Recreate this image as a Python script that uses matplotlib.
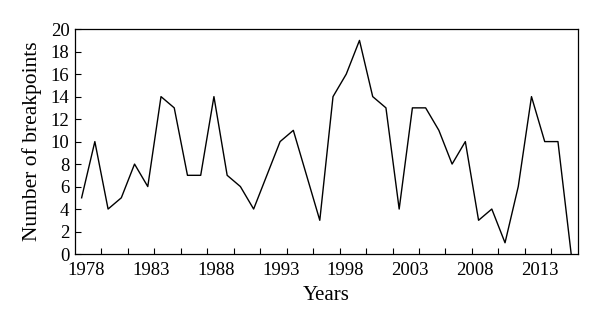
import matplotlib
matplotlib.use('Agg')
import matplotlib.pyplot as plt
import numpy as np

years = list(range(1978, 2016))
breakpoints = [5, 10, 4, 5, 8, 6, 14, 13, 7, 7, 14, 7, 6, 4, 7, 10, 11, 7, 3, 14,
               16, 19, 14, 13, 4, 13, 13, 11, 8, 10, 3, 4, 1, 6, 14, 10, 10, 0]
year_labels = ['1978', '1983', '1988', '1993', '1998', '2003', '2008', '2013']

plt.rcParams['font.family'] = ['Liberation Serif', 'DejaVu Serif']

fig = plt.figure(figsize=(6, 3.24), dpi=100)
ax = fig.add_axes([0.125, 0.216, 0.838, 0.694])

ax.plot(years, breakpoints, color='black', linewidth=1.0)

ax.set_xlim(years[0] - 0.5, years[-1] + 0.5)
ax.set_ylim(0, 20)
ax.set_yticks(np.arange(0, 21, 2))

# small tick marks every two years, labels placed separately
ax.set_xticks(np.arange(years[0] + 1.5, years[-1] - 0.5, 2), minor=True)
ax.set_xticks([years[0] + 0.38 + 4.89 * i for i in range(len(year_labels))])
ax.set_xticklabels(year_labels)
ax.tick_params(axis='x', which='major', length=0, pad=6, labelsize=13.5)
ax.tick_params(axis='x', which='minor', direction='in', length=4, width=0.8)
ax.tick_params(axis='y', direction='in', length=4, width=0.8, labelsize=13.5, pad=4)

for s in ax.spines.values():
    s.set_linewidth(0.9)

ax.set_xlabel('Years', fontsize=15, labelpad=5)
ax.set_ylabel('Number of breakpoints', fontsize=15.5, labelpad=6)

fig.savefig('out.png', dpi=100)
